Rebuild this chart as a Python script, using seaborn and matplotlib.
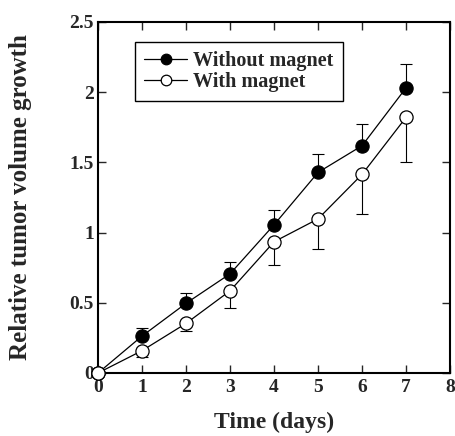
import matplotlib
matplotlib.use("Agg")
import matplotlib.pyplot as plt
import seaborn as sns
import pandas as pd
import numpy as np

days = [0, 1, 2, 3, 4, 5, 6, 7]
without_magnet = [0.0, 0.263, 0.496, 0.706, 1.055, 1.428, 1.618, 2.03]
without_err_up = [0.0, 0.057, 0.071, 0.084, 0.105, 0.131, 0.152, 0.17]
with_magnet = [0.0, 0.159, 0.353, 0.585, 0.934, 1.097, 1.414, 1.82]
with_err_down = [0.0, 0.043, 0.053, 0.125, 0.164, 0.217, 0.28, 0.316]

sns.set_style("ticks")
plt.rcParams['font.family'] = ['Liberation Serif', 'DejaVu Serif']
plt.rcParams['font.weight'] = 'bold'

df = pd.DataFrame({
    "day": days * 2,
    "value": without_magnet + with_magnet,
    "group": ["Without magnet"] * len(days) + ["With magnet"] * len(days),
})

fig = plt.figure(figsize=(4.56, 4.36), dpi=100)
ax = fig.add_axes([0.215, 0.1445, 0.772, 0.8055])

# error bars (one-sided)
ax.errorbar(days, without_magnet, yerr=[np.zeros(len(days)), without_err_up],
            fmt='none', ecolor='black', elinewidth=0.8, capsize=4.5, capthick=0.8, zorder=1)
ax.errorbar(days, with_magnet, yerr=[with_err_down, np.zeros(len(days))],
            fmt='none', ecolor='black', elinewidth=0.8, capsize=4.5, capthick=0.8, zorder=1)

sns.lineplot(data=df[df.group == "Without magnet"], x="day", y="value", ax=ax,
             color='black', lw=0.9, marker='o', markersize=9.5,
             markerfacecolor='black', markeredgecolor='black', markeredgewidth=0.9,
             label="Without magnet", zorder=3)
sns.lineplot(data=df[df.group == "With magnet"], x="day", y="value", ax=ax,
             color='black', lw=0.9, marker='o', markersize=9.5,
             markerfacecolor='white', markeredgecolor='black', markeredgewidth=0.9,
             label="With magnet", zorder=4)
for ln in ax.lines:
    ln.set_clip_on(False)

ax.set_xlim(0, 8)
ax.set_ylim(0, 2.5)
ax.set_xticks(range(0, 9))
ax.set_yticks([0, 0.5, 1, 1.5, 2, 2.5])
ax.set_yticklabels(['0', '0.5', '1', '1.5', '2', '2.5'])
ax.tick_params(direction='in', top=True, right=True, length=6, width=1,
               labelsize=14)
ax.tick_params(axis='x', pad=4)
ax.tick_params(axis='y', pad=3)
for lab in ax.get_xticklabels() + ax.get_yticklabels():
    lab.set_fontweight('bold')
for s in ax.spines.values():
    s.set_linewidth(1.5)
    s.set_color('black')

ax.set_xlabel("Time (days)", fontsize=17, fontweight='bold', labelpad=12)
ax.set_ylabel("Relative tumor volume growth", fontsize=18, fontweight='bold', labelpad=27)

leg = ax.legend(loc='upper left', bbox_to_anchor=(0.105, 0.942), borderaxespad=0,
                fancybox=False, edgecolor='black', framealpha=1,
                prop={'size': 14.5, 'weight': 'bold'}, handlelength=2.15,
                handletextpad=0.3, borderpad=0.45, labelspacing=0.05,
                markerscale=0.8)
leg.get_frame().set_linewidth(1.0)

fig.savefig("out.png", dpi=100)
